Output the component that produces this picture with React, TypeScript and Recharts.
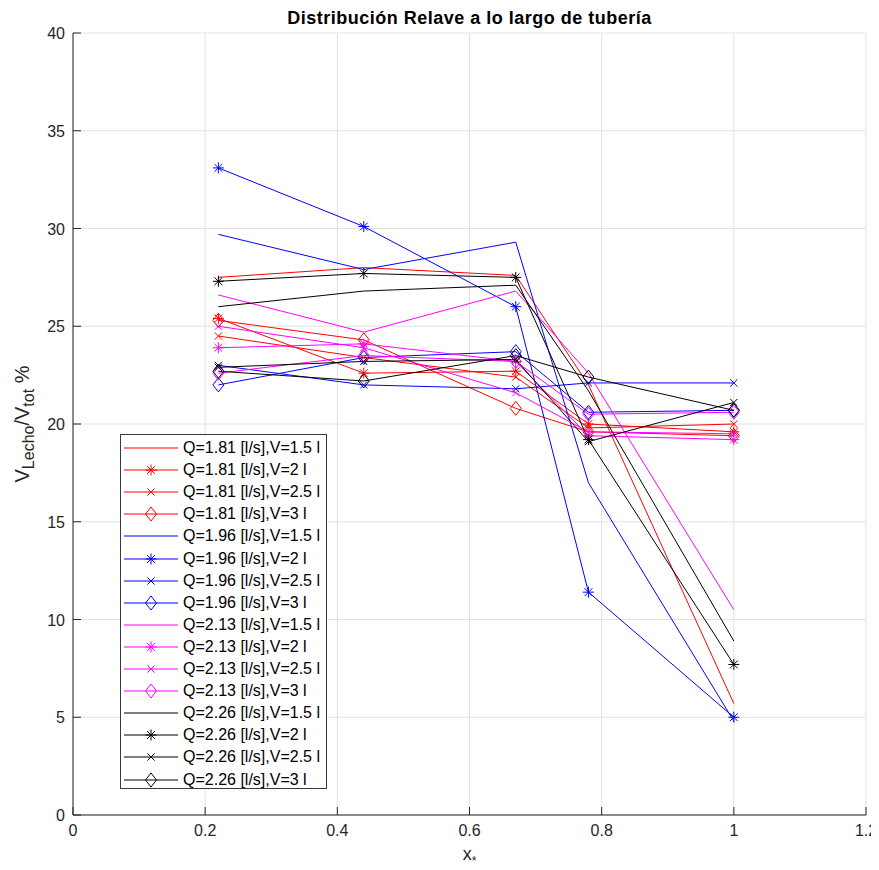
import { LineChart, Line, XAxis, YAxis, CartesianGrid } from "recharts";

// measuring stations along the pipe (normalised position x*)
const stations = [0.22, 0.44, 0.67, 0.78, 1.0];
const xTicks = [0, 0.2, 0.4, 0.6, 0.8, 1, 1.2];
const yTicks = [0, 5, 10, 15, 20, 25, 30, 35, 40];

// bed volume share V_Lecho/V_tot [%] per flow rate Q and tailings volume V
const q181v15 = [27.5, 28.0, 27.6, 22.0, 5.7];
const q181v2 = [25.4, 22.6, 22.7, 20.0, 19.6];
const q181v25 = [24.5, 23.4, 22.4, 19.8, 20.0];
const q181v3 = [25.3, 24.3, 20.8, 19.6, 19.4];

const q196v15 = [29.7, 27.9, 29.3, 17.0, 4.8];
const q196v2 = [33.1, 30.1, 26.0, 11.4, 5.0];
const q196v25 = [23.0, 22.0, 21.8, 22.1, 22.1];
const q196v3 = [22.0, 23.4, 23.7, 20.6, 20.7];

const q213v15 = [26.6, 24.7, 26.8, 22.6, 10.5];
const q213v2 = [23.9, 24.1, 23.2, 19.4, 19.2];
const q213v25 = [25.0, 23.9, 21.6, 19.6, 19.5];
const q213v3 = [22.6, 23.5, 23.2, 20.5, 20.6];

const q226v15 = [26.0, 26.8, 27.1, 21.7, 8.9];
const q226v2 = [27.3, 27.7, 27.5, 19.2, 7.7];
const q226v25 = [22.9, 23.2, 23.3, 19.1, 21.1];
const q226v3 = [22.7, 22.2, 23.5, 22.4, 20.7];

type MarkerKind = "none" | "star" | "cross" | "diamond";

interface Series {
  key: string;
  label: string;
  color: string;
  marker: MarkerKind;
  values: number[];
}

const RED = "#ff0000";
const BLUE = "#0000ff";
const MAGENTA = "#ff00ff";
const BLACK = "#000000";

const series: Series[] = [
  { key: "q181v15", label: "Q=1.81 [l/s],V=1.5 l", color: RED, marker: "none", values: q181v15 },
  { key: "q181v2", label: "Q=1.81 [l/s],V=2 l", color: RED, marker: "star", values: q181v2 },
  { key: "q181v25", label: "Q=1.81 [l/s],V=2.5 l", color: RED, marker: "cross", values: q181v25 },
  { key: "q181v3", label: "Q=1.81 [l/s],V=3 l", color: RED, marker: "diamond", values: q181v3 },
  { key: "q196v15", label: "Q=1.96 [l/s],V=1.5 l", color: BLUE, marker: "none", values: q196v15 },
  { key: "q196v2", label: "Q=1.96 [l/s],V=2 l", color: BLUE, marker: "star", values: q196v2 },
  { key: "q196v25", label: "Q=1.96 [l/s],V=2.5 l", color: BLUE, marker: "cross", values: q196v25 },
  { key: "q196v3", label: "Q=1.96 [l/s],V=3 l", color: BLUE, marker: "diamond", values: q196v3 },
  { key: "q213v15", label: "Q=2.13 [l/s],V=1.5 l", color: MAGENTA, marker: "none", values: q213v15 },
  { key: "q213v2", label: "Q=2.13 [l/s],V=2 l", color: MAGENTA, marker: "star", values: q213v2 },
  { key: "q213v25", label: "Q=2.13 [l/s],V=2.5 l", color: MAGENTA, marker: "cross", values: q213v25 },
  { key: "q213v3", label: "Q=2.13 [l/s],V=3 l", color: MAGENTA, marker: "diamond", values: q213v3 },
  { key: "q226v15", label: "Q=2.26 [l/s],V=1.5 l", color: BLACK, marker: "none", values: q226v15 },
  { key: "q226v2", label: "Q=2.26 [l/s],V=2 l", color: BLACK, marker: "star", values: q226v2 },
  { key: "q226v25", label: "Q=2.26 [l/s],V=2.5 l", color: BLACK, marker: "cross", values: q226v25 },
  { key: "q226v3", label: "Q=2.26 [l/s],V=3 l", color: BLACK, marker: "diamond", values: q226v3 },
];

const data = stations.map((x, i) => {
  const row: Record<string, number> = { x };
  series.forEach((s) => {
    row[s.key] = s.values[i];
  });
  return row;
});

const FONT = '"Liberation Sans", Arial, Helvetica, sans-serif';
const AXIS = "#262626";
const TICK_LEN = 8;

const Marker = ({ cx, cy, kind, color }: { cx: number; cy: number; kind: MarkerKind; color: string }) => {
  if (kind === "star") {
    const r = 5.5;
    const d = 3.9;
    return (
      <g stroke={color} strokeWidth={1} fill="none">
        <line x1={cx - r} y1={cy} x2={cx + r} y2={cy} />
        <line x1={cx} y1={cy - r} x2={cx} y2={cy + r} />
        <line x1={cx - d} y1={cy - d} x2={cx + d} y2={cy + d} />
        <line x1={cx - d} y1={cy + d} x2={cx + d} y2={cy - d} />
      </g>
    );
  }
  if (kind === "cross") {
    const d = 3.6;
    return (
      <g stroke={color} strokeWidth={1} fill="none">
        <line x1={cx - d} y1={cy - d} x2={cx + d} y2={cy + d} />
        <line x1={cx - d} y1={cy + d} x2={cx + d} y2={cy - d} />
      </g>
    );
  }
  if (kind === "diamond") {
    const w = 5.5;
    const h = 7;
    return (
      <polygon
        points={`${cx},${cy - h} ${cx + w},${cy} ${cx},${cy + h} ${cx - w},${cy}`}
        stroke={color}
        strokeWidth={1}
        fill="none"
      />
    );
  }
  return null;
};

const BottomTick = (props: any) => {
  const { x, y, payload } = props;
  return (
    <g>
      <line x1={x} x2={x} y1={y} y2={y - TICK_LEN} stroke={AXIS} />
      <text x={x} y={y + 21} textAnchor="middle" fontSize={16} fill={AXIS} fontFamily={FONT}>
        {payload.value}
      </text>
    </g>
  );
};

const TopTick = (props: any) => {
  const { x, y } = props;
  return <line x1={x} x2={x} y1={y} y2={y + TICK_LEN} stroke={AXIS} />;
};

const LeftTick = (props: any) => {
  const { x, y, payload } = props;
  return (
    <g>
      <line x1={x} x2={x + TICK_LEN} y1={y} y2={y} stroke={AXIS} />
      <text x={x - 8} y={y + 6} textAnchor="end" fontSize={16} fill={AXIS} fontFamily={FONT}>
        {payload.value}
      </text>
    </g>
  );
};

const RightTick = (props: any) => {
  const { x, y } = props;
  return <line x1={x} x2={x - TICK_LEN} y1={y} y2={y} stroke={AXIS} />;
};

const LegendBox = () => (
  <div
    style={{
      position: "absolute",
      left: 112,
      top: 426,
      width: 207,
      height: 355,
      border: "1px solid #3a3a3a",
      background: "#ffffff",
      boxSizing: "border-box",
      fontFamily: FONT,
      fontSize: 16,
      color: "#000",
    }}
  >
    {series.map((s, i) => (
      <div
        key={s.key}
        style={{ position: "absolute", left: 0, top: 2 + i * 22.1, height: 22, display: "flex", alignItems: "center" }}
      >
        <svg width={60} height={22} style={{ display: "block" }}>
          <line x1={3} x2={57} y1={11} y2={11} stroke={s.color} strokeWidth={1} />
          <Marker cx={30} cy={11} kind={s.marker} color={s.color} />
        </svg>
        <span style={{ marginLeft: 2, whiteSpace: "nowrap" }}>{s.label}</span>
      </div>
    ))}
  </div>
);

const App = () => {
  return (
    <div style={{ position: "relative", width: 863, height: 854, fontFamily: FONT }}>
      <LineChart width={871} height={854} data={data} margin={{ top: 25, right: 13, bottom: 0, left: 0 }}>
        <CartesianGrid stroke="#e2e2e2" strokeWidth={1} />
        <XAxis
          dataKey="x"
          type="number"
          domain={[0, 1.2]}
          ticks={xTicks}
          allowDataOverflow
          height={47}
          tickSize={0}
          tickMargin={0}
          tickLine={false}
          axisLine={{ stroke: AXIS }}
          tick={BottomTick}
          interval={0}
        />
        <XAxis
          xAxisId="top"
          orientation="top"
          type="number"
          domain={[0, 1.2]}
          ticks={xTicks}
          allowDataOverflow
          height={0}
          tickSize={0}
          tickMargin={0}
          tickLine={false}
          axisLine={{ stroke: AXIS }}
          tick={TopTick}
          interval={0}
        />
        <YAxis
          type="number"
          domain={[0, 40]}
          ticks={yTicks}
          allowDataOverflow
          width={65}
          tickSize={0}
          tickMargin={0}
          tickLine={false}
          axisLine={{ stroke: AXIS }}
          tick={LeftTick}
          interval={0}
        />
        <YAxis
          yAxisId="right"
          orientation="right"
          type="number"
          domain={[0, 40]}
          ticks={yTicks}
          allowDataOverflow
          width={0}
          tickSize={0}
          tickMargin={0}
          tickLine={false}
          axisLine={{ stroke: AXIS }}
          tick={RightTick}
          interval={0}
        />
        {series.map((s) => (
          <Line
            key={s.key}
            dataKey={s.key}
            type="linear"
            stroke={s.color}
            strokeWidth={1}
            isAnimationActive={false}
            activeDot={false}
            dot={
              s.marker === "none"
                ? false
                : (p: any) => <Marker key={`${s.key}-${p.index}`} cx={p.cx} cy={p.cy} kind={s.marker} color={s.color} />
            }
          />
        ))}
      </LineChart>

      <div
        style={{
          position: "absolute",
          left: 65,
          width: 793,
          top: 0,
          lineHeight: "20px",
          textAlign: "center",
          fontWeight: "bold",
          fontSize: 18,
          letterSpacing: 0.5,
          color: "#000",
        }}
      >
        Distribución Relave a lo largo de tubería
      </div>

      <div
        style={{
          position: "absolute",
          left: 65,
          width: 793,
          top: 837,
          lineHeight: "18px",
          textAlign: "center",
          fontSize: 18,
          color: AXIS,
        }}
      >
        x<sub style={{ fontSize: 12 }}>*</sub>
      </div>

      <div
        style={{
          position: "absolute",
          left: 14 - 100,
          top: 416 - 12,
          width: 200,
          height: 24,
          lineHeight: "24px",
          textAlign: "center",
          transform: "rotate(-90deg)",
          fontSize: 20,
          color: AXIS,
          whiteSpace: "nowrap",
        }}
      >
        V<sub style={{ fontSize: 16 }}>Lecho</sub>/V<sub style={{ fontSize: 16 }}>tot</sub> %
      </div>

      <LegendBox />
    </div>
  );
};

export default App;
